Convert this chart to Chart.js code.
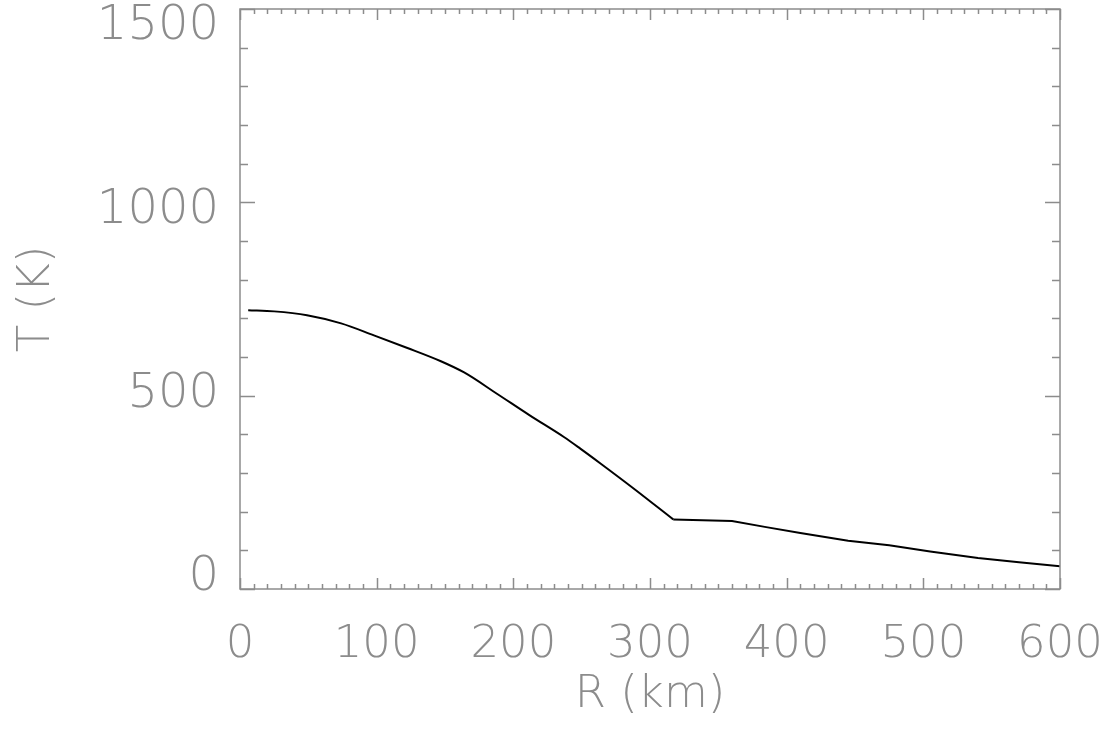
<!DOCTYPE html>
<html>
<head>
<meta charset="utf-8">
<script src="https://cdn.jsdelivr.net/npm/chart.js@4.4.1/dist/chart.umd.min.js"></script>
<style>
html, body { margin: 0; padding: 0; background: #fff; }
#wrap { width: 1111px; height: 740px; }
</style>
</head>
<body>
<div id="wrap"><canvas id="myChart1"></canvas></div>
<script>
// R (km) vs T (K)
// smooth inner part, up to the knee
var radiusIn = [6, 25, 49, 74, 98, 122, 147, 164, 188, 212, 237, 249, 264, 288, 317];
var tempIn = [721, 718, 708, 687, 656, 624, 589, 560, 505, 449, 393, 363, 324, 260, 180];
// outer part, after the knee
var radiusOut = [317, 360, 385, 410, 445, 475, 505, 540, 570, 600];
var tempOut = [180, 176, 160, 145, 125, 113, 97, 80, 69, 59];

var xMajor = [0, 100, 200, 300, 400, 500, 600];
var yMajor = [0, 500, 1000, 1500];

var grey = '#8c8c8c';
var fontFam = "'DejaVu Sans', sans-serif";

// y labels hang below their tick (align start), then get lifted:
// IDL squeezes them, so 0 sits above its tick and 1500 below
function yLift(v) {
    return Math.round(35 - v * 29 / 1500);
}

// IDL style box with inward ticks, minor and major
var frame = {
    id: 'frame',
    afterDraw: function (chart) {
        const { ctx, chartArea: { left, right, top, bottom }, scales: { x, y } } = chart;
        ctx.save();
        ctx.strokeStyle = grey;
        ctx.lineWidth = 1.5;
        ctx.strokeRect(left, top, right - left, bottom - top);
        ctx.beginPath();
        x.ticks.forEach(function (t) {
            const v = Math.round(t.value);
            const px = Math.round(x.getPixelForValue(v)) + 0.5;
            const len = xMajor.indexOf(v) >= 0 ? 11 : 5;
            ctx.moveTo(px, bottom); ctx.lineTo(px, bottom - len);
            ctx.moveTo(px, top); ctx.lineTo(px, top + len);
        });
        y.ticks.forEach(function (t) {
            const v = Math.round(t.value);
            const py = Math.round(y.getPixelForValue(v)) + 0.5;
            const len = yMajor.indexOf(v) >= 0 ? 15 : 8;
            ctx.moveTo(left, py); ctx.lineTo(left + len, py);
            ctx.moveTo(right, py); ctx.lineTo(right - len, py);
        });
        ctx.stroke();
        ctx.restore();
    }
};

var options = {
    maintainAspectRatio: false,
    responsive: true,
    animation: false,
    plugins: { legend: { display: false }, tooltip: { enabled: false } },
    layout: { padding: { left: 0, right: 51, top: 9, bottom: 0 } },
    scales: {
        x: {
            type: 'linear',
            min: 0,
            max: 600,
            grid: { display: false, drawTicks: false },
            border: { display: false },
            afterFit: function (scale) {
                scale.height = 151;
                scale.paddingLeft = 0;
                scale.paddingRight = 0;
            },
            ticks: {
                stepSize: 10,
                autoSkip: false,
                maxRotation: 0,
                padding: 29,
                color: grey,
                font: { family: fontFam, size: 45, weight: 200 },
                callback: function (v) { return xMajor.indexOf(Math.round(v)) >= 0 ? String(Math.round(v)) : ''; }
            },
            title: {
                display: true,
                text: 'R (km)',
                color: grey,
                padding: { top: 0, bottom: 18 },
                font: { family: fontFam, size: 45, weight: 200 }
            }
        },
        y: {
            type: 'linear',
            min: 0,
            max: 1500,
            grid: { display: false, drawTicks: false },
            border: { display: false },
            afterFit: function (scale) {
                scale.width = 240;
                scale.paddingTop = 0;
                scale.paddingBottom = 0;
            },
            ticks: {
                stepSize: 100,
                autoSkip: false,
                padding: 21,
                align: 'start',
                color: grey,
                font: function (context) {
                    const v = context.tick ? Math.round(context.tick.value) : 0;
                    const lh = Math.max(2, yLift(v) * 2);
                    return { family: fontFam, size: 48, weight: 200, lineHeight: lh + 'px' };
                },
                // a blank line after the number lifts it by half a line
                callback: function (v) {
                    v = Math.round(v);
                    if (yMajor.indexOf(v) < 0) return '';
                    return [String(v), ' '];
                }
            },
            title: {
                display: true,
                text: 'T (K)',
                color: grey,
                padding: { top: 10, bottom: 0 },
                font: { family: fontFam, size: 45, weight: 200 }
            }
        }
    }
};

const dataT = {
    datasets: [{
        type: 'line',
        label: 'T inner',
        data: radiusIn.map(function (r, i) { return { x: r, y: tempIn[i] }; }),
        borderColor: '#000',
        borderWidth: 2,
        pointRadius: 0,
        cubicInterpolationMode: 'monotone',
        fill: false
    }, {
        type: 'line',
        label: 'T outer',
        data: radiusOut.map(function (r, i) { return { x: r, y: tempOut[i] }; }),
        borderColor: '#000',
        borderWidth: 2,
        pointRadius: 0,
        tension: 0,
        fill: false
    }]
};

new Chart("myChart1", {
    data: dataT,
    options: options,
    plugins: [frame]
});
</script>
</body>
</html>
